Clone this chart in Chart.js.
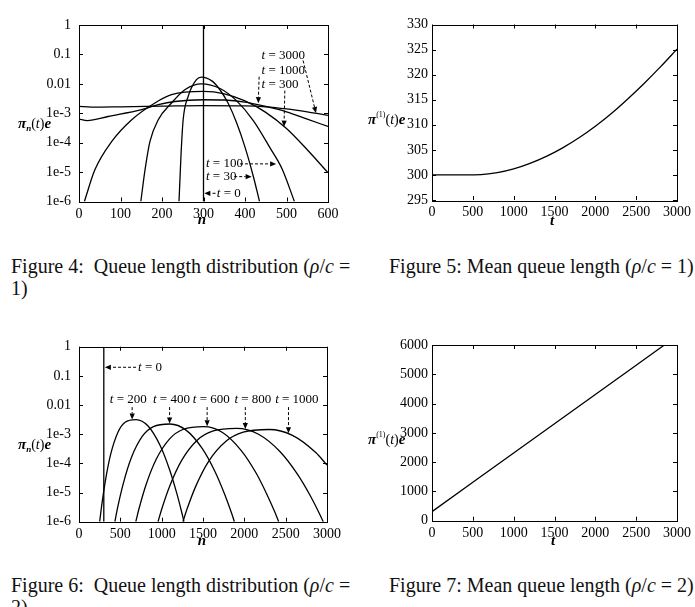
<!DOCTYPE html>
<html>
<head>
<meta charset="utf-8">
<script src="https://cdn.jsdelivr.net/npm/chart.js@4.4.1/dist/chart.umd.min.js"></script>
<style>
    body { margin: 0; background: #fff; width: 695px; height: 607px; position: relative; overflow: hidden; }
    canvas { position: absolute; }
    .cap { position: absolute; font-family: "Liberation Serif", serif; font-size: 20px; color: #111; white-space: nowrap; line-height: 22px; }
</style>
</head>
<body>
<canvas id="fig4" width="345" height="240" style="left:0;top:0"></canvas>
<canvas id="fig5" width="345" height="240" style="left:350px;top:0"></canvas>
<canvas id="fig6" width="345" height="240" style="left:0;top:320px"></canvas>
<canvas id="fig7" width="345" height="240" style="left:350px;top:320px"></canvas>

<div class="cap" style="left:11px;top:255px">Figure 4:&nbsp; Queue length distribution (<i>ρ</i>/<i>c</i> =<br>1)</div>
<div class="cap" style="left:389px;top:255px">Figure 5: Mean queue length (<i>ρ</i>/<i>c</i> = 1)</div>
<div class="cap" style="left:11px;top:574px">Figure 6:&nbsp; Queue length distribution (<i>ρ</i>/<i>c</i> =<br>2)</div>
<div class="cap" style="left:389px;top:574px">Figure 7: Mean queue length (<i>ρ</i>/<i>c</i> = 2)</div>

<script>
// ---- data ----
const logTicks = [1e-6, 1e-5, 1e-4, 1e-3, 0.01, 0.1, 1];
const logLabels = ['1e-6', '1e-5', '1e-4', '1e-3', '0.01', '0.1', '1'];

// Figure 4 (rho/c = 1), queue length n vs probability
const f4t0N = [300, 300];
const f4t0P = [1e-6, 1];
const f4t30N = [241, 246, 251, 263, 283, 295, 320, 340, 360, 380, 400, 420, 435];
const f4t30P = [1e-6, 4.37e-5, 6.03e-4, 3.72e-3, 1.38e-2, 1.70e-2, 1.26e-2, 6.17e-3, 2.09e-3, 4.68e-4, 7.08e-5, 7.24e-6, 1e-6];
const f4t100N = [149, 159, 171, 191, 223, 255, 295, 340, 380, 420, 460, 490, 519];
const f4t100P = [1e-6, 1.17e-5, 1.10e-4, 6.03e-4, 2.24e-3, 6.31e-3, 1.0e-2, 6.92e-3, 2.63e-3, 5.62e-4, 6.76e-5, 1.23e-5, 1e-6];
const f4t300N = [13, 38, 79, 127, 183, 223, 300, 350, 400, 450, 500, 550, 600];
const f4t300P = [1e-6, 1.17e-5, 1.10e-4, 6.03e-4, 2.24e-3, 4.27e-3, 5.50e-3, 4.57e-3, 2.63e-3, 1.07e-3, 3.02e-4, 5.75e-5, 9.55e-6];
const f4t1000N = [0, 20, 70, 151, 191, 231, 300, 350, 400, 450, 500, 550, 600];
const f4t1000P = [6.31e-4, 5.62e-4, 7.76e-4, 1.32e-3, 1.95e-3, 2.51e-3, 2.88e-3, 2.82e-3, 2.40e-3, 1.70e-3, 1.12e-3, 6.31e-4, 3.55e-4];
const f4t3000N = [0, 30, 100, 200, 300, 400, 450, 500, 550, 600];
const f4t3000P = [1.70e-3, 1.62e-3, 1.66e-3, 1.74e-3, 1.82e-3, 1.78e-3, 1.66e-3, 1.41e-3, 1.12e-3, 8.51e-4];
const f4XTicks = [0, 100, 200, 300, 400, 500, 600];

// Figure 5, mean queue length
const f5T = [0, 400, 600, 800, 1000, 1200, 1400, 1600, 1800, 2000, 2200, 2400, 2600, 2800, 3000];
const f5Mean = [300, 300, 300.05, 300.45, 301.2, 302.3, 303.7, 305.4, 307.4, 309.7, 312.3, 315.2, 318.3, 321.6, 325.1];
const f5YTicks = [295, 300, 305, 310, 315, 320, 325, 330];

// Figure 6 (rho/c = 2)
const f6t0N = [300, 300];
const f6t0P = [1e-6, 1];
const f6t200N = [250, 272, 316, 382, 470, 558, 690, 835, 980, 1096, 1183, 1241, 1270];
const f6t200P = [1e-6, 3.16e-6, 2.24e-5, 2.0e-4, 1.15e-3, 2.57e-3, 3.16e-3, 1.91e-3, 4.17e-4, 6.03e-5, 9.33e-6, 2.19e-6, 1e-6];
const f6t400N = [434, 467, 534, 634, 767, 900, 1100, 1295, 1490, 1646, 1763, 1841, 1880];
const f6t400P = [1e-6, 3.02e-6, 1.95e-5, 1.58e-4, 8.51e-4, 1.82e-3, 2.24e-3, 1.38e-3, 3.24e-4, 5.13e-5, 8.51e-6, 2.14e-6, 1e-6];
const f6t600N = [687, 728, 810, 934, 1099, 1263, 1510, 1736, 1963, 2144, 2279, 2370, 2415];
const f6t600P = [1e-6, 2.95e-6, 1.82e-5, 1.38e-4, 7.08e-4, 1.48e-3, 1.82e-3, 1.15e-3, 2.75e-4, 4.57e-5, 7.94e-6, 2.09e-6, 1e-6];
const f6t800N = [956, 1004, 1099, 1242, 1433, 1624, 1910, 2171, 2433, 2642, 2798, 2903, 2955];
const f6t800P = [1e-6, 2.88e-6, 1.70e-5, 1.26e-4, 6.31e-4, 1.29e-3, 1.58e-3, 1.0e-3, 2.51e-4, 4.27e-5, 7.76e-6, 2.04e-6, 1e-6];
const f6t1000N = [1257, 1309, 1413, 1570, 1778, 1987, 2300, 2582, 2864, 3000];
const f6t1000P = [1e-6, 2.82e-6, 1.66e-5, 1.20e-4, 5.75e-4, 1.17e-3, 1.45e-3, 9.12e-4, 2.34e-4, 8.71e-5];
const f6XTicks = [0, 500, 1000, 1500, 2000, 2500, 3000];

// Figure 7, mean queue length
const f7T = [0, 500, 1000, 1500, 2000, 2500, 2845];
const f7Mean = [310, 1310, 2310, 3310, 4310, 5310, 6000];
const f7YTicks = [0, 1000, 2000, 3000, 4000, 5000, 6000];

// ---- drawing helpers ----
const SERIF = '"Liberation Serif", "Times New Roman", serif';

function pts(xs, ys) {
    return xs.map((x, i) => ({ x: x, y: ys[i] }));
}

function curve(xs, ys, straight) {
    return {
        data: pts(xs, ys),
        showLine: true,
        borderColor: '#000',
        borderWidth: 1.3,
        pointRadius: 0,
        fill: false,
        cubicInterpolationMode: straight ? 'default' : 'monotone',
        tension: 0
    };
}

function drawParts(ctx, parts, x, y) {
    let cx = x;
    parts.forEach(p => {
        ctx.font = p[1];
        ctx.fillText(p[0], cx, y + (p[2] || 0));
        cx += ctx.measureText(p[0]).width;
    });
    return cx;
}

function partsWidth(ctx, parts) {
    let w = 0;
    parts.forEach(p => { ctx.font = p[1]; w += ctx.measureText(p[0]).width; });
    return w;
}

function tLabel(val) {
    return [['t', 'italic 13px ' + SERIF], [' = ' + val, '13px ' + SERIF]];
}

function arrow(ctx, x0, y0, x1, y1) {
    const ang = Math.atan2(y1 - y0, x1 - x0);
    const head = 6;
    const ex = x1 - Math.cos(ang) * head, ey = y1 - Math.sin(ang) * head;
    ctx.save();
    ctx.lineWidth = 1;
    ctx.setLineDash([3, 2]);
    ctx.beginPath();
    ctx.moveTo(x0, y0);
    ctx.lineTo(ex, ey);
    ctx.stroke();
    ctx.setLineDash([]);
    ctx.beginPath();
    ctx.moveTo(x1, y1);
    ctx.lineTo(ex + Math.sin(ang) * 2.6, ey - Math.cos(ang) * 2.6);
    ctx.lineTo(ex - Math.sin(ang) * 2.6, ey + Math.cos(ang) * 2.6);
    ctx.closePath();
    ctx.fill();
    ctx.restore();
}

// frame, inward ticks, axis titles and the t = ... notes
const framePlugin = {
    id: 'frame',
    afterDatasetsDraw(chart, args, o) {
        const ctx = chart.ctx;
        const a = chart.chartArea;
        const xs = chart.scales.x, ys = chart.scales.y;
        ctx.save();
        ctx.strokeStyle = '#000';
        ctx.fillStyle = '#000';
        ctx.lineWidth = 1;
        ctx.strokeRect(Math.round(a.left) + 0.5, Math.round(a.top) + 0.5,
            Math.round(a.right - a.left), Math.round(a.bottom - a.top));
        ctx.beginPath();
        xs.ticks.forEach(t => {
            const px = Math.round(xs.getPixelForValue(t.value)) + 0.5;
            ctx.moveTo(px, a.bottom); ctx.lineTo(px, a.bottom - 4);
            ctx.moveTo(px, a.top); ctx.lineTo(px, a.top + 4);
        });
        ys.ticks.forEach(t => {
            const py = Math.round(ys.getPixelForValue(t.value)) + 0.5;
            ctx.moveTo(a.left, py); ctx.lineTo(a.left + 4, py);
            ctx.moveTo(a.right, py); ctx.lineTo(a.right - 4, py);
        });
        ctx.stroke();

        // y title: pi_n(t)e or pi^(1)(t)e
        ctx.textBaseline = 'alphabetic';
        ctx.textAlign = 'left';
        const yParts = [['π', 'bold italic 15px ' + SERIF]];
        if (o.sub) yParts.push([o.sub, 'bold italic 9px ' + SERIF, 3]);
        if (o.sup) yParts.push([o.sup, '8px ' + SERIF, -7]);
        yParts.push(['(', '14px ' + SERIF], ['t', 'italic 14px ' + SERIF], [')', '14px ' + SERIF], ['e', 'bold italic 15px ' + SERIF]);
        drawParts(ctx, yParts, o.yTitleX, o.yTitleY);

        // x title
        ctx.font = 'bold italic 15px ' + SERIF;
        ctx.textAlign = 'center';
        ctx.fillText(o.xTitle, o.xTitleX, o.xTitleY);

        // notes
        ctx.textAlign = 'left';
        ctx.textBaseline = 'middle';
        (o.notes || []).forEach(n => {
            const parts = tLabel(n.t);
            let tx = xs.getPixelForValue(n.tx);
            if (n.center) tx -= partsWidth(ctx, parts) / 2;
            drawParts(ctx, parts, tx, ys.getPixelForValue(n.ty));
            arrow(ctx, xs.getPixelForValue(n.from[0]), ys.getPixelForValue(n.from[1]),
                xs.getPixelForValue(n.to[0]), ys.getPixelForValue(n.to[1]));
        });
        ctx.restore();
    }
};

function tickFont() {
    return { family: 'Liberation Serif', size: 14 };
}

function makeChart(id, datasets, cfg) {
    const xScale = {
        type: 'linear',
        min: cfg.xTicks[0],
        max: cfg.xTicks[cfg.xTicks.length - 1],
        afterBuildTicks: s => { s.ticks = cfg.xTicks.map(v => ({ value: v })); },
        ticks: { font: tickFont(), color: '#000', padding: 4, maxRotation: 0, autoSkip: false, callback: v => String(v) },
        grid: { display: false, drawTicks: false },
        border: { display: false },
        afterFit: s => { s.height = cfg.xHeight; }
    };
    let yScale;
    if (cfg.log) {
        yScale = {
            type: 'logarithmic',
            min: 1e-6,
            max: 1,
            afterBuildTicks: s => { s.ticks = logTicks.map(v => ({ value: v })); },
            ticks: {
                font: tickFont(), color: '#000', padding: 8, autoSkip: false,
                callback: v => {
                    const i = logTicks.findIndex(t => Math.abs(Math.log10(t) - Math.log10(v)) < 1e-6);
                    return i >= 0 ? logLabels[i] : '';
                }
            },
            grid: { display: false, drawTicks: false },
            border: { display: false },
            afterFit: s => { s.width = cfg.yWidth; }
        };
    } else {
        yScale = {
            type: 'linear',
            min: cfg.yTicks[0],
            max: cfg.yTicks[cfg.yTicks.length - 1],
            afterBuildTicks: s => { s.ticks = cfg.yTicks.map(v => ({ value: v })); },
            ticks: { font: tickFont(), color: '#000', padding: 4, autoSkip: false, callback: v => String(v) },
            grid: { display: false, drawTicks: false },
            border: { display: false },
            afterFit: s => { s.width = cfg.yWidth; }
        };
    }
    return new Chart(document.getElementById(id), {
        type: 'scatter',
        data: { datasets: datasets },
        options: {
            responsive: false,
            animation: false,
            layout: { padding: { left: 0, top: cfg.top, right: cfg.right, bottom: 0 } },
            scales: { x: xScale, y: yScale },
            plugins: {
                legend: { display: false },
                tooltip: { enabled: false },
                frame: cfg.frame
            }
        },
        plugins: [framePlugin]
    });
}

makeChart('fig4', [
    curve(f4t0N, f4t0P, true),
    curve(f4t30N, f4t30P),
    curve(f4t100N, f4t100P),
    curve(f4t300N, f4t300P),
    curve(f4t1000N, f4t1000P),
    curve(f4t3000N, f4t3000P)
], {
    log: true, xTicks: f4XTicks, top: 25, right: 17, xHeight: 38.5, yWidth: 79,
    frame: {
        sub: 'n', yTitleX: 18, yTitleY: 128, xTitle: 'n', xTitleX: 202, xTitleY: 224,
        notes: [
            { t: '3000', tx: 440, ty: 0.093, from: [540, 0.062], to: [571, 1.02e-3] },
            { t: '1000', tx: 440, ty: 0.029, from: [434, 0.0175], to: [432, 2.2e-3] },
            { t: '300', tx: 440, ty: 0.0093, from: [496, 5.9e-3], to: [494, 3.5e-4] },
            { t: '100', tx: 306, ty: 1.9e-5, from: [388, 1.9e-5], to: [475, 1.9e-5] },
            { t: '30', tx: 306, ty: 7.0e-6, from: [374, 7.0e-6], to: [416, 7.0e-6] },
            { t: '0', tx: 332, ty: 1.9e-6, from: [329, 1.9e-6], to: [302, 1.9e-6] }
        ]
    }
});

makeChart('fig5', [curve(f5T, f5Mean)], {
    log: false, xTicks: f6XTicks, yTicks: f5YTicks, top: 24.5, right: 15, xHeight: 40, yWidth: 82,
    frame: { sup: '(1)', yTitleX: 18, yTitleY: 124, xTitle: 't', xTitleX: 202, xTitleY: 225 }
});

makeChart('fig6', [
    curve(f6t0N, f6t0P, true),
    curve(f6t200N, f6t200P),
    curve(f6t400N, f6t400P),
    curve(f6t600N, f6t600P),
    curve(f6t800N, f6t800P),
    curve(f6t1000N, f6t1000P)
], {
    log: true, xTicks: f6XTicks, top: 26.7, right: 17, xHeight: 38.3, yWidth: 79,
    frame: {
        sub: 'n', yTitleX: 18, yTitleY: 129, xTitle: 'n', xTitleX: 202, xTitleY: 225,
        notes: [
            { t: '0', tx: 714, ty: 0.197, from: [690, 0.197], to: [313, 0.197] },
            { t: '200', tx: 373, ty: 0.0148, from: [643, 8.5e-3], to: [643, 3.2e-3] },
            { t: '400', tx: 895, ty: 0.0148, from: [1096, 8.5e-3], to: [1096, 2.34e-3] },
            { t: '600', tx: 1377, ty: 0.0148, from: [1550, 8.5e-3], to: [1550, 1.86e-3] },
            { t: '800', tx: 1880, ty: 0.0148, from: [2012, 8.5e-3], to: [2012, 1.5e-3] },
            { t: '1000', tx: 2373, ty: 0.0148, from: [2534, 8.5e-3], to: [2534, 1.07e-3] }
        ]
    }
});

makeChart('fig7', [curve(f7T, f7Mean, true)], {
    log: false, xTicks: f6XTicks, yTicks: f7YTicks, top: 25, right: 15, xHeight: 39.3, yWidth: 82,
    frame: { sup: '(1)', yTitleX: 18, yTitleY: 124, xTitle: 't', xTitleX: 203, xTitleY: 225 }
});
</script>
</body>
</html>
